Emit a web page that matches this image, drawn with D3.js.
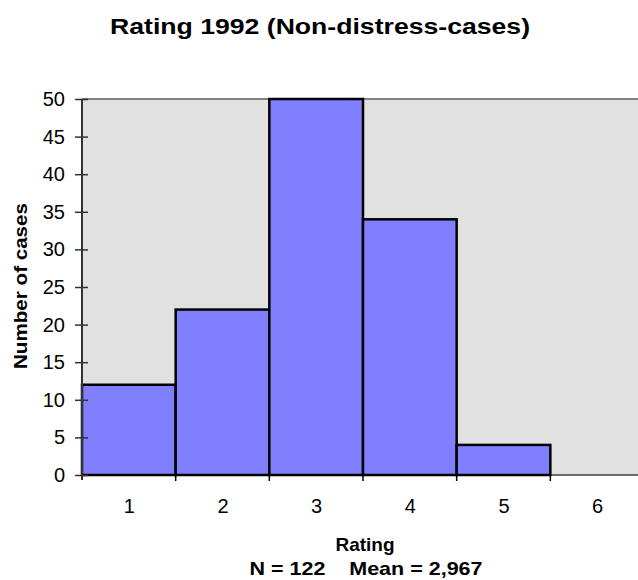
<!DOCTYPE html>
<html><head><meta charset="utf-8">
<script src="https://cdn.jsdelivr.net/npm/d3@7/dist/d3.min.js"></script>
<style>body{margin:0;background:#fff}svg{display:block}text{font-family:"Liberation Sans",Arial,sans-serif}</style>
</head><body>
<svg id="c" width="638" height="580"></svg>
<script>
const categories = [1, 2, 3, 4, 5, 6];
const counts = [12, 22, 50, 34, 4, 0];
const yTicks = [0, 5, 10, 15, 20, 25, 30, 35, 40, 45, 50];
const titleText = "Rating 1992 (Non-distress-cases)";
const xTitle = "Rating";
const subTitle = "N = 122    Mean = 2,967";
const yTitle = "Number of cases";

const FONT = "Liberation Sans, Arial, sans-serif";
const svg = d3.select("#c");
const L = 82, R = 644, T = 99, B = 475;
const x = d3.scaleLinear().domain([0.5, 6.5]).range([L, R]);
const y = d3.scaleLinear().domain([0, 50]).range([B, T]);

// plot background
svg.append("rect").attr("x", L).attr("y", T).attr("width", R - L).attr("height", B - T).attr("fill", "#e1e1e1");
svg.append("line").attr("x1", L).attr("x2", R).attr("y1", T).attr("y2", T).attr("stroke", "#808080").attr("stroke-width", 2);
svg.append("line").attr("x1", L).attr("x2", R).attr("y1", B).attr("y2", B).attr("stroke", "#404040").attr("stroke-width", 1.5);

// bars
svg.selectAll("rect.bar").data(categories.map((c, i) => ({c, v: counts[i]})).filter(d => d.v > 0))
  .enter().append("rect").attr("class", "bar")
  .attr("x", d => x(d.c - 0.5)).attr("width", d => x(d.c + 0.5) - x(d.c - 0.5))
  .attr("y", d => y(d.v)).attr("height", d => y(0) - y(d.v))
  .attr("fill", "#8080ff").attr("stroke", "#000").attr("stroke-width", 2.5);

// y axis
const ya = svg.append("g").attr("transform", `translate(${L},0)`)
  .call(d3.axisLeft(y).tickValues(yTicks).tickSize(6).tickPadding(11));
ya.select(".domain").remove();
ya.selectAll(".tick line").attr("x1", -7).attr("x2", 6).attr("stroke", "#333").attr("stroke-width", 1.5);
ya.selectAll(".tick text").attr("font-size", 20).attr("fill", "#000").attr("font-family", FONT);
svg.append("line").attr("x1", L).attr("x2", L).attr("y1", T).attr("y2", B + 5).attr("stroke", "#333").attr("stroke-width", 2);

// x axis
const xa = svg.append("g").attr("transform", `translate(0,${B})`)
  .call(d3.axisBottom(x).tickValues(categories).tickFormat(d3.format("d")).tickSize(0).tickPadding(24));
xa.select(".domain").remove();
xa.selectAll(".tick text").attr("font-size", 20).attr("fill", "#000").attr("font-family", FONT);
const bounds = categories.map(c => c + 0.5);
svg.selectAll("line.xt").data(bounds).enter().append("line").attr("class", "xt")
  .attr("x1", d => x(d)).attr("x2", d => x(d)).attr("y1", B).attr("y2", B + 6)
  .attr("stroke", "#000").attr("stroke-width", 1.5);

// titles
svg.append("text").attr("x", 320).attr("y", 34).attr("text-anchor", "middle")
  .attr("font-size", 22).attr("font-weight", "bold")
  .attr("textLength", 420).attr("lengthAdjust", "spacingAndGlyphs").text(titleText);
svg.append("text").attr("x", 365).attr("y", 551).attr("text-anchor", "middle")
  .attr("font-size", 19).attr("font-weight", "bold").text(xTitle);
svg.append("text").attr("x", 366).attr("y", 575).attr("text-anchor", "middle")
  .attr("font-size", 19).attr("font-weight", "bold").style("white-space", "pre")
  .attr("textLength", 233).attr("lengthAdjust", "spacingAndGlyphs").text(subTitle);
svg.append("text").attr("transform", `translate(27,${(T + B) / 2 - 1}) rotate(-90)`).attr("text-anchor", "middle")
  .attr("font-size", 19).attr("font-weight", "bold")
  .attr("textLength", 166).attr("lengthAdjust", "spacingAndGlyphs").text(yTitle);
</script>
</body></html>
